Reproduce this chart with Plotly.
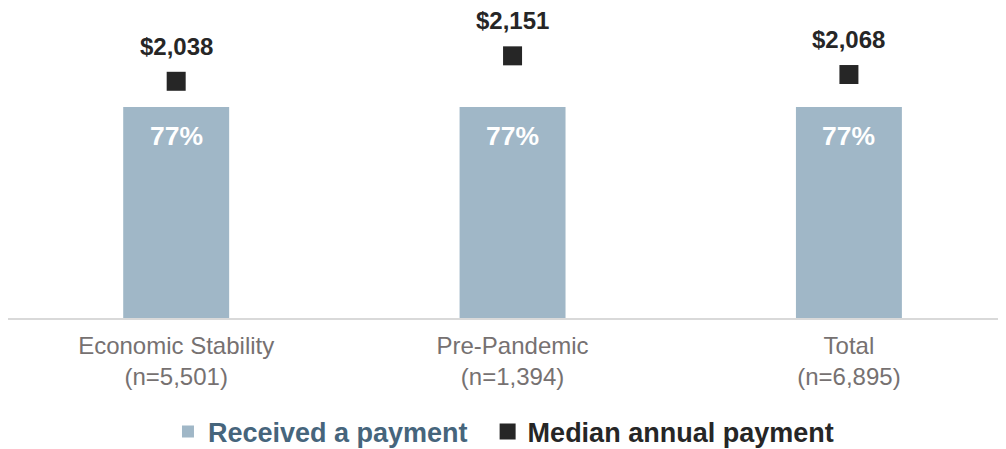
import plotly.graph_objects as go

categories = ["Economic Stability<br>(n=5,501)", "Pre-Pandemic<br>(n=1,394)", "Total<br>(n=6,895)"]
received_pct = [77, 77, 77]
median_payment = [2038, 2151, 2068]
pct_labels = ["77%", "77%", "77%"]
pay_labels = ["$2,038", "$2,151", "$2,068"]

FONT = "Liberation Sans, Arial, sans-serif"
BAR_COLOR = "#A0B7C7"
DARK = "#262626"

fig = go.Figure()
fig.add_trace(go.Bar(
    x=categories, y=received_pct, width=0.315,
    marker=dict(color=BAR_COLOR, line=dict(width=0)),
    name="<b><span style='color:#46657C'>Received a payment</span></b>&nbsp;&nbsp;",
    hoverinfo="skip",
))
fig.add_trace(go.Scatter(
    x=categories, y=median_payment, yaxis="y2", mode="markers",
    marker=dict(symbol="square", size=19, color=DARK),
    name="<b><span style='color:#262626'>Median annual payment</span></b>",
    hoverinfo="skip",
))

annotations = []
for c, v, t in zip(categories, received_pct, pct_labels):
    annotations.append(dict(x=c, y=v, xref="x", yref="y", text="<b>%s</b>" % t,
                            showarrow=False, yanchor="middle", yshift=-29,
                            font=dict(family=FONT, size=26.5, color="white")))
for c, v, t in zip(categories, median_payment, pay_labels):
    annotations.append(dict(x=c, y=v, xref="x", yref="y2", text="<b>%s</b>" % t,
                            showarrow=False, yanchor="middle", yshift=35,
                            font=dict(family=FONT, size=24, color=DARK)))

fig.update_layout(
    width=998, height=441,
    margin=dict(l=0, r=0, t=0, b=131, autoexpand=False),
    paper_bgcolor="white", plot_bgcolor="white",
    font=dict(family=FONT, color=DARK),
    showlegend=True,
    legend=dict(orientation="h", x=0.1603, xanchor="left", y=-0.3677, yanchor="middle",
                font=dict(family=FONT, size=27, color=DARK), itemclick=False),
    xaxis=dict(type="category", range=[-0.5, 2.467], showline=True, linecolor="#D9D9D9",
               linewidth=1.5, ticks="", showgrid=False, zeroline=False, automargin=False,
               ticklabelstandoff=5,
               tickfont=dict(family=FONT, size=24, color="#767171")),
    yaxis=dict(range=[0, 113.1], visible=False, showgrid=False, zeroline=False),
    yaxis2=dict(range=[987, 2363.4], overlaying="y", visible=False, showgrid=False, zeroline=False),
    annotations=annotations,
)

fig.write_html("out.html")
